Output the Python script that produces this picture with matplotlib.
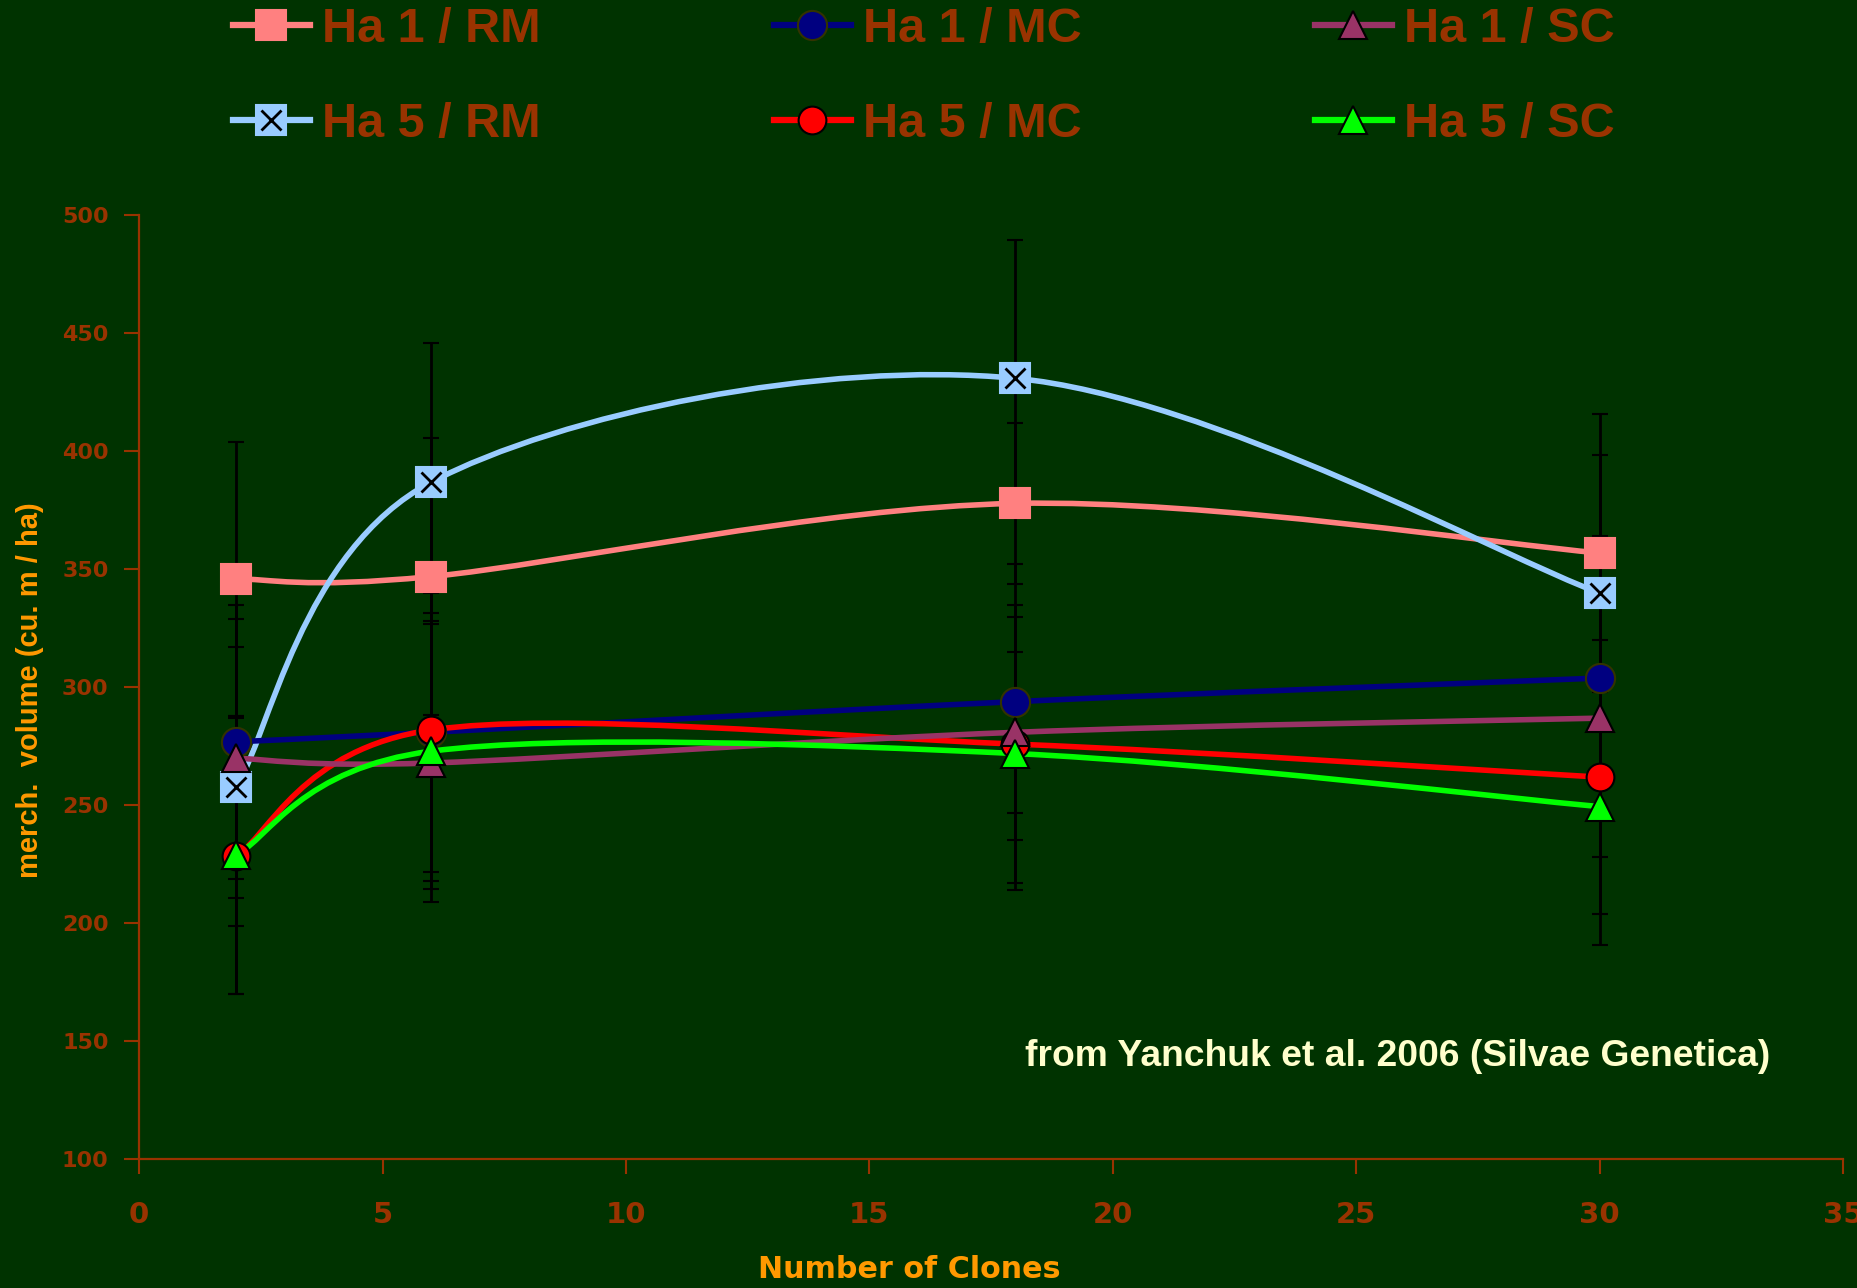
import numpy as np
import matplotlib
matplotlib.use('Agg')
import matplotlib.pyplot as plt
import matplotlib.patches as patches
from matplotlib.path import Path
from matplotlib.lines import Line2D

# data
clones = [2, 6, 18, 30]

ha1_rm = [346, 347, 378, 357]
ha5_rm = [258, 387, 431, 340]
ha1_mc = [277, 281, 294, 304]
ha5_mc = [228.5, 282, 276, 262]
ha1_sc = [270, 268, 281, 287]
ha5_sc = [229, 273, 272, 249.5]

ha1_rm_err = [58, 58.5, 34, 59]
ha5_rm_err = [59, 59, 58.5, 58.5]
ha1_mc_err = [58, 59, 58.5, 60]
ha5_mc_err = [58.5, 64, 59, 58]
ha1_sc_err = [59, 59, 34, 59]
ha5_sc_err = [59, 58.5, 58, 58.5]

labels = ['Ha 1 / RM', 'Ha 5 / RM', 'Ha 1 / MC', 'Ha 5 / MC', 'Ha 1 / SC', 'Ha 5 / SC']

BG = '#003300'
BROWN = '#993300'
ORANGE = '#FF9900'


def smooth_path(xs, ys):
    """ Excel style smoothed line: cubic bezier through the points. """
    pts = np.column_stack([xs, ys]).astype(float)
    ext = np.vstack([pts[0], pts, pts[-1]])
    verts = [pts[0]]
    codes = [Path.MOVETO]
    for i in range(len(pts) - 1):
        p0, p1, p2, p3 = ext[i], ext[i + 1], ext[i + 2], ext[i + 3]
        verts += [p1 + (p2 - p0) / 6, p2 - (p3 - p1) / 6, p2]
        codes += [Path.CURVE4] * 3
    return Path(verts, codes)


fig = plt.figure(figsize=(18.57, 12.88), dpi=100, facecolor=BG)
ax = fig.add_axes([0.0749, 0.0998, 0.9176, 0.7329])
ax.set_facecolor(BG)

series = [
    # values, errors, line colour, marker, marker face, marker edge, size
    (ha1_rm, ha1_rm_err, '#FF8080', 's', '#FF8080', '#FF8080', 21.5),
    (ha5_rm, ha5_rm_err, '#99CCFF', 's', '#99CCFF', '#99CCFF', 21.5),
    (ha1_mc, ha1_mc_err, '#000080', 'o', '#000080', '#333300', 21),
    (ha5_mc, ha5_mc_err, '#FF0000', 'o', '#FF0000', 'black', 20),
    (ha1_sc, ha1_sc_err, '#993366', '^', '#993366', 'black', 20),
    (ha5_sc, ha5_sc_err, '#00FF00', '^', '#00FF00', 'black', 20),
]

handles = []
for vals, errs, col, mk, mfc, mec, ms in series:
    ax.errorbar(clones, vals, yerr=errs, fmt='none', ecolor='black',
                elinewidth=2, capsize=5.8, capthick=1.5, zorder=2)
    ax.add_patch(patches.PathPatch(smooth_path(clones, vals), facecolor='none',
                                   edgecolor=col, lw=4, zorder=3))
    ax.plot(clones, vals, linestyle='none', marker=mk, ms=ms, mfc=mfc, mec=mec,
            mew=1.5, zorder=4)
    h = Line2D([], [], color=col, lw=4.5, marker=mk, ms=ms, mfc=mfc, mec=mec, mew=1.5)
    if col == '#99CCFF':
        ax.plot(clones, vals, linestyle='none', marker='x', ms=14, mec='black',
                mew=2, zorder=5)
        h = (h, Line2D([], [], linestyle='none', marker='x', ms=14, mec='black', mew=2))
    handles.append(h)

ax.set_xlim(0, 35)
ax.set_ylim(100, 500)
ax.set_xticks(range(0, 36, 5))
ax.set_yticks(range(100, 501, 50))

for side in ['top', 'right']:
    ax.spines[side].set_visible(False)
for side in ['left', 'bottom']:
    ax.spines[side].set_color(BROWN)
    ax.spines[side].set_linewidth(1.6)

ax.tick_params(direction='out', length=11, width=1.5, color=BROWN, labelcolor=BROWN)
ax.tick_params(axis='y', labelsize=16, pad=11)
ax.tick_params(axis='x', labelsize=21, pad=19)
for lab in ax.get_xticklabels() + ax.get_yticklabels():
    lab.set_fontweight('bold')
    lab.set_family('DejaVu Sans')

# legend, 3 columns x 2 rows across the top
leg = fig.legend(handles, labels, ncol=3, loc='upper left',
                 bbox_to_anchor=(233 / 1857, 1 - 7 / 1288), borderaxespad=0,
                 borderpad=0, frameon=False, handlelength=1.58, handletextpad=0.25,
                 columnspacing=4.8, labelspacing=1.02,
                 prop={'family': 'Liberation Sans', 'weight': 'bold', 'size': 35})
for t in leg.get_texts():
    t.set_color(BROWN)

fig.text(909 / 1857, 1 - 1270 / 1288, 'Number of Clones', ha='center', va='center',
         color=ORANGE, fontsize=21.7, fontweight='bold', family='DejaVu Sans')
fig.text(30 / 1857, 1 - 690 / 1288, 'merch.  volume (cu. m / ha)', rotation=90,
         ha='center', va='center', color=ORANGE, fontsize=21, fontweight='bold',
         family='Liberation Sans')
fig.text(1397.5 / 1857, 1 - 1057 / 1288, 'from Yanchuk et al. 2006 (Silvae Genetica)',
         ha='center', va='center', color='#FFFFCC', fontsize=26.8, fontweight='bold',
         family='Liberation Sans')

fig.savefig('out.png', dpi=100, facecolor=BG)
